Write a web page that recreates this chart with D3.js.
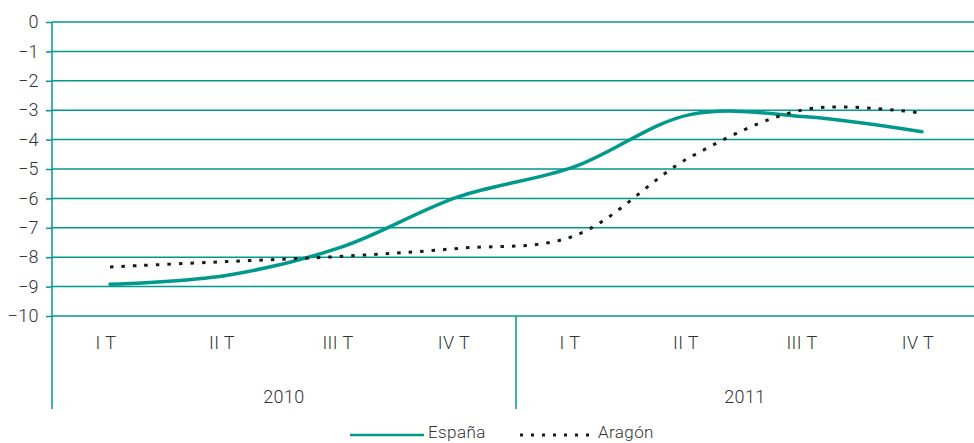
<!DOCTYPE html>
<html>
<head>
<meta charset="utf-8">
<script src="https://cdn.jsdelivr.net/npm/d3@7"></script>
<style>
  body { margin: 0; background: #fff; }
  svg text { font-family: Roboto, "Liberation Sans", sans-serif; font-weight: 300; fill: #333; letter-spacing: 0.4px; }
</style>
</head>
<body>
<div id="chart"></div>
<script>
const years = ["2010", "2011"];
const quarters = ["I T", "II T", "III T", "IV T"];
const espana = [-8.92, -8.62, -7.65, -5.95, -4.93, -3.15, -3.22, -3.73];
const aragon = [-8.33, -8.15, -7.97, -7.7, -7.28, -4.6, -2.97, -3.1];
const yTicks = [0, -1, -2, -3, -4, -5, -6, -7, -8, -9, -10];

const w = 974;
const h = 443;
const padLeft = 52;
const padTop = 22;
const plotBottom = 316;

const keys = [];
years.forEach(yr => quarters.forEach(q => keys.push(yr + "|" + q)));

const svg = d3.select("#chart").append("svg")
    .attr("width", w)
    .attr("height", h);

const x = d3.scaleBand().domain(keys).range([padLeft, 980]).padding(0);
const y = d3.scaleLinear().domain([-10, 0]).range([plotBottom, padTop]);
const cx = k => x(k) + x.bandwidth() / 2;

const teal = "#00998b";

// grid lines
svg.append("g").selectAll("line")
    .data(yTicks)
    .enter().append("line")
    .attr("x1", padLeft)
    .attr("x2", w)
    .attr("y1", d => y(d))
    .attr("y2", d => y(d))
    .attr("stroke", teal)
    .attr("stroke-width", 1.5);

// y axis
const yAxis = d3.axisLeft(y).tickValues(yTicks).tickSize(6).tickPadding(7).tickFormat(d3.format("d"));
const gy = svg.append("g")
    .attr("transform", "translate(" + padLeft + ",0)")
    .call(yAxis);
gy.select(".domain").remove();
gy.selectAll(".tick line").attr("stroke", teal).attr("stroke-width", 1.5);
gy.selectAll(".tick text").attr("font-size", "18px").style("fill", "#333");

svg.append("line")
    .attr("x1", padLeft).attr("x2", padLeft)
    .attr("y1", padTop).attr("y2", 409)
    .attr("stroke", teal).attr("stroke-width", 1.5);

// year separators
years.slice(1).forEach(yr => {
    const xs = x(yr + "|" + quarters[0]);
    svg.append("line")
        .attr("x1", xs).attr("x2", xs)
        .attr("y1", plotBottom).attr("y2", 409)
        .attr("stroke", teal).attr("stroke-width", 1.5);
});

// quarter labels
svg.append("g").selectAll("text")
    .data(keys)
    .enter().append("text")
    .attr("x", d => cx(d) - 4)
    .attr("y", 349)
    .attr("text-anchor", "middle")
    .attr("font-size", "18px")
    .text(d => d.split("|")[1]);

// year labels
svg.append("g").selectAll("text")
    .data(years)
    .enter().append("text")
    .attr("x", d => {
        const a = x(d + "|" + quarters[0]);
        const b = x(d + "|" + quarters[quarters.length - 1]) + x.bandwidth();
        return (a + Math.min(b, w)) / 2;
    })
    .attr("y", 403)
    .attr("text-anchor", "middle")
    .attr("font-size", "18px")
    .text(d => d);

const line = d3.line()
    .x((d, i) => cx(keys[i]))
    .y(d => y(d))
    .curve(d3.curveCatmullRom.alpha(0.5));

svg.append("path")
    .datum(espana)
    .attr("d", line)
    .attr("fill", "none")
    .attr("stroke", teal)
    .attr("stroke-width", 3.5)
    .attr("stroke-linecap", "round");

svg.append("path")
    .datum(aragon)
    .attr("d", line)
    .attr("fill", "none")
    .attr("stroke", "#1a1a1a")
    .attr("stroke-width", 3)
    .attr("stroke-dasharray", "3.5,8");

// legend
const legend = [
    { name: "España", color: teal, dash: null, width: 2.5, x: 350 },
    { name: "Aragón", color: "#1a1a1a", dash: "3,8", width: 3, x: 520 }
];
const lg = svg.append("g").selectAll("g")
    .data(legend)
    .enter().append("g")
    .attr("transform", d => "translate(" + d.x + ",435)");
lg.append("line")
    .attr("x1", 0).attr("x2", 74)
    .attr("stroke", d => d.color)
    .attr("stroke-width", d => d.width)
    .attr("stroke-dasharray", d => d.dash);
lg.append("text")
    .attr("x", 78)
    .attr("y", 3)
    .attr("font-size", "17px")
    .text(d => d.name);
</script>
</body>
</html>
